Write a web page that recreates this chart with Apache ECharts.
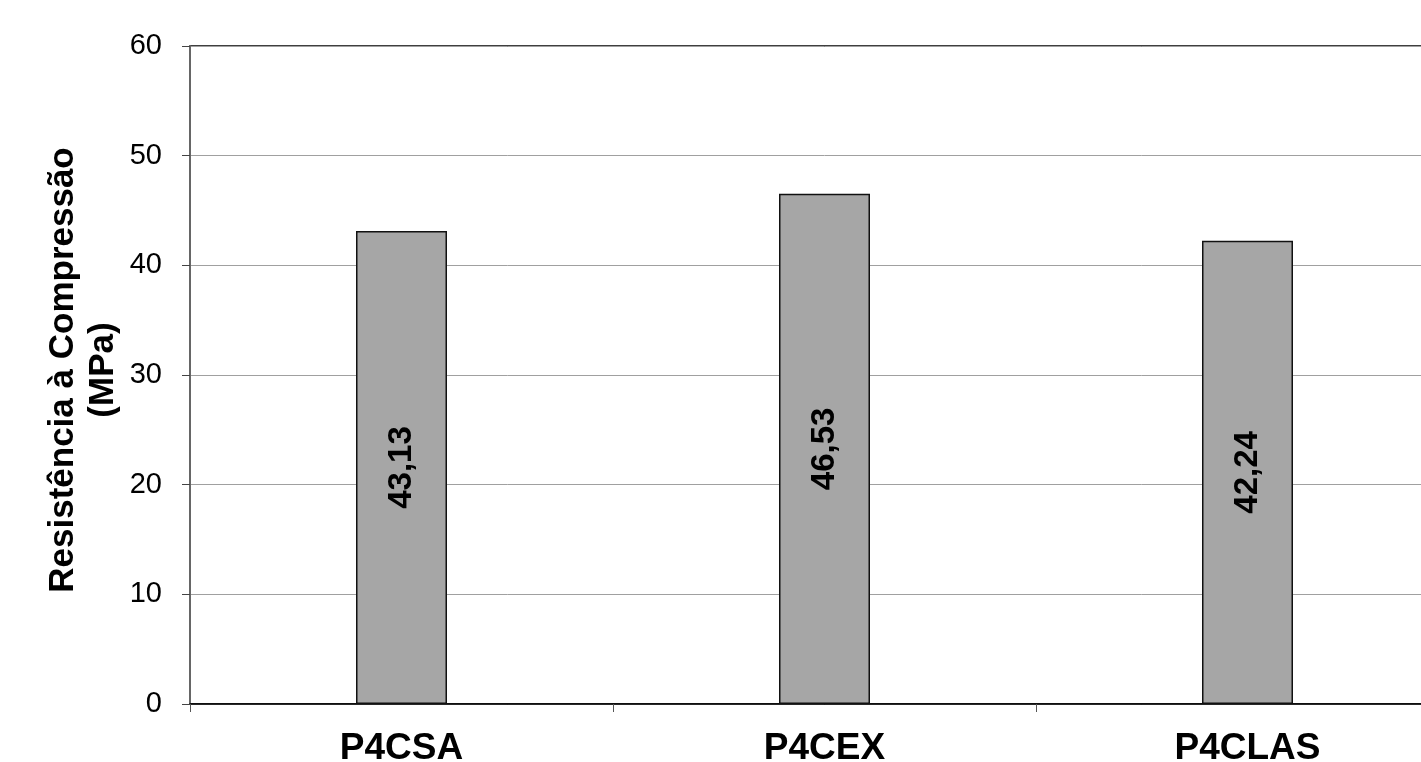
<!DOCTYPE html>
<html>
<head>
<meta charset="utf-8">
<script src="https://cdn.jsdelivr.net/npm/echarts@6/dist/echarts.min.js"></script>
<style>
  html, body { margin: 0; padding: 0; background: #fff; overflow: hidden; }
  /* the plot runs past the right edge of the window */
  #chart { width: 1460px; height: 762px; }
</style>
</head>
<body>
<div id="chart"></div>
<script>
// Compressive strength per mix
const categories = ['P4CSA', 'P4CEX', 'P4CLAS'];
const strength = [43.13, 46.53, 42.24];
const yTicks = { min: 0, max: 60, interval: 10 };
const yTitle = 'Resistência à Compressão\n(MPa)';

const FONT = '"Liberation Sans", Arial, sans-serif';

const chart = echarts.init(document.getElementById('chart'));
chart.setOption({
  backgroundColor: '#ffffff',
  animation: false,
  grid: {
    left: 190, top: 46, right: 1, bottom: 58,
    outerBoundsMode: 'none',
    containLabel: false,
    show: true, borderColor: '#000', borderWidth: 1.5, backgroundColor: 'transparent'
  },
  // vertical axis title, two lines, reading bottom to top
  graphic: [{
    type: 'text',
    x: 83, y: 370,
    rotation: Math.PI / 2,
    style: {
      text: yTitle,
      align: 'center',
      verticalAlign: 'middle',
      fontFamily: FONT,
      fontWeight: 'bold',
      fontSize: 35,
      lineHeight: 40,
      fill: '#000'
    }
  }],
  xAxis: {
    type: 'category',
    data: categories,
    axisLine: { lineStyle: { color: '#000', width: 1.5 } },
    axisTick: { show: true, length: 8, lineStyle: { color: '#555', width: 1 } },
    axisLabel: { color: '#000', fontFamily: FONT, fontWeight: 'bold', fontSize: 37, margin: 26 },
    splitLine: { show: false }
  },
  yAxis: {
    type: 'value',
    min: yTicks.min, max: yTicks.max, interval: yTicks.interval,
    axisLine: { show: true, lineStyle: { color: '#666', width: 2 } },
    axisTick: { show: true, length: 8, lineStyle: { color: '#444', width: 1 } },
    axisLabel: { color: '#000', fontFamily: FONT, fontSize: 29, margin: 28 },
    splitLine: { show: true, lineStyle: { color: '#a0a0a0', width: 1 } }
  },
  series: [{
    type: 'bar',
    data: strength,
    barWidth: 91,
    itemStyle: { color: '#a6a6a6', borderColor: '#111', borderWidth: 1.5 },
    label: {
      show: true,
      position: 'inside',
      rotate: 90,
      color: '#000',
      fontFamily: FONT,
      fontWeight: 'bold',
      fontSize: 33,
      formatter: p => p.value.toFixed(2).replace('.', ',')
    }
  }]
});
</script>
</body>
</html>
